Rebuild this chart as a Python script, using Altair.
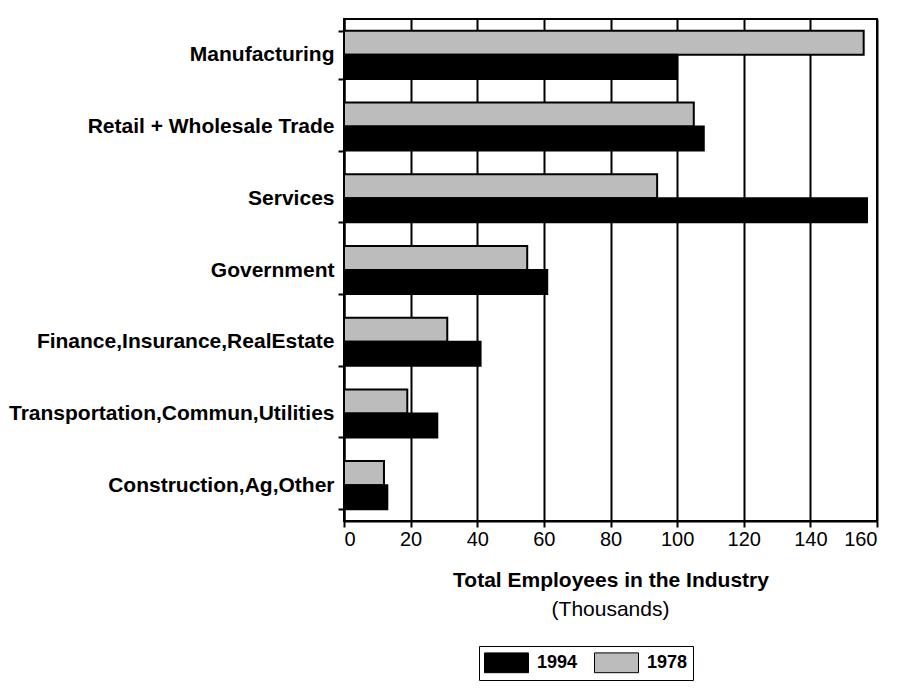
import altair as alt
import pandas as pd

categories = ["Manufacturing", "Retail + Wholesale Trade", "Services", "Government",
              "Finance,Insurance,RealEstate", "Transportation,Commun,Utilities",
              "Construction,Ag,Other"]
v1978 = [156, 105, 94, 55, 31, 19, 12]
v1994 = [100, 108, 157, 61, 41, 28, 13]
x_ticks = [0, 20, 40, 60, 80, 100, 120, 140, 160]

rows = []
for c, a, b in zip(categories, v1978, v1994):
    rows.append({"Industry": c, "Year": "1978", "Value": a})
    rows.append({"Industry": c, "Year": "1994", "Value": b})
df = pd.DataFrame(rows)

W, H = 533, 502
FONT = "Liberation Sans"

bars = alt.Chart(df).mark_bar(stroke="black", strokeWidth=2).encode(
    y=alt.Y("Industry:N", sort=categories,
            scale=alt.Scale(paddingInner=0.33, paddingOuter=0.165),
            axis=alt.Axis(title=None, tickBand="extent", labelFontSize=21,
                          labelFontWeight="bold", labelFont=FONT, labelColor="black",
                          tickColor="black", tickSize=6, tickWidth=2,
                          domainColor="black", domainWidth=2, labelPadding=4,
                          labelLimit=400)),
    yOffset=alt.YOffset("Year:N", sort=["1978", "1994"]),
    x=alt.X("Value:Q", scale=alt.Scale(domain=[0, 160], nice=False),
            axis=alt.Axis(values=x_ticks, title="Total Employees in the Industry",
                          titleFontSize=21, titleFontWeight="bold", titleFont=FONT,
                          titleColor="black", titlePadding=20,
                          labelFontSize=20, labelFont=FONT, labelColor="black",
                          labelPadding=2,
                          tickColor="black", tickSize=6, tickWidth=2,
                          domainColor="black", domainWidth=2,
                          grid=True, gridColor="black", gridWidth=2)),
    color=alt.Color("Year:N", scale=alt.Scale(domain=["1994", "1978"],
                                              range=["black", "#bcbcbc"]),
                    legend=alt.Legend(title=None, orient="none", direction="horizontal",
                                      legendX=135, legendY=627,
                                      symbolType="M-2,-0.9H2V0.9H-2Z", symbolSize=484,
                                      symbolOffset=11,
                                      symbolStrokeColor="black", symbolStrokeWidth=1,
                                      labelFontSize=18, labelFontWeight="bold",
                                      labelFont=FONT, labelColor="black",
                                      strokeColor="black", padding=5,
                                      columnPadding=14, labelOffset=19)),
)

sub = alt.Chart(pd.DataFrame({"t": ["(Thousands)"]})).mark_text(
    fontSize=21, font=FONT, color="black", baseline="middle"
).encode(text="t:N", x=alt.value(W / 2), y=alt.value(H + 89))

chart = alt.layer(bars, sub).properties(
    width=W, height=H, padding={"left": 0, "top": 0, "right": 5, "bottom": 0}
).configure_view(stroke="black", strokeWidth=2)

chart.save("out.html", embed_options={"renderer": "svg", "actions": False})
